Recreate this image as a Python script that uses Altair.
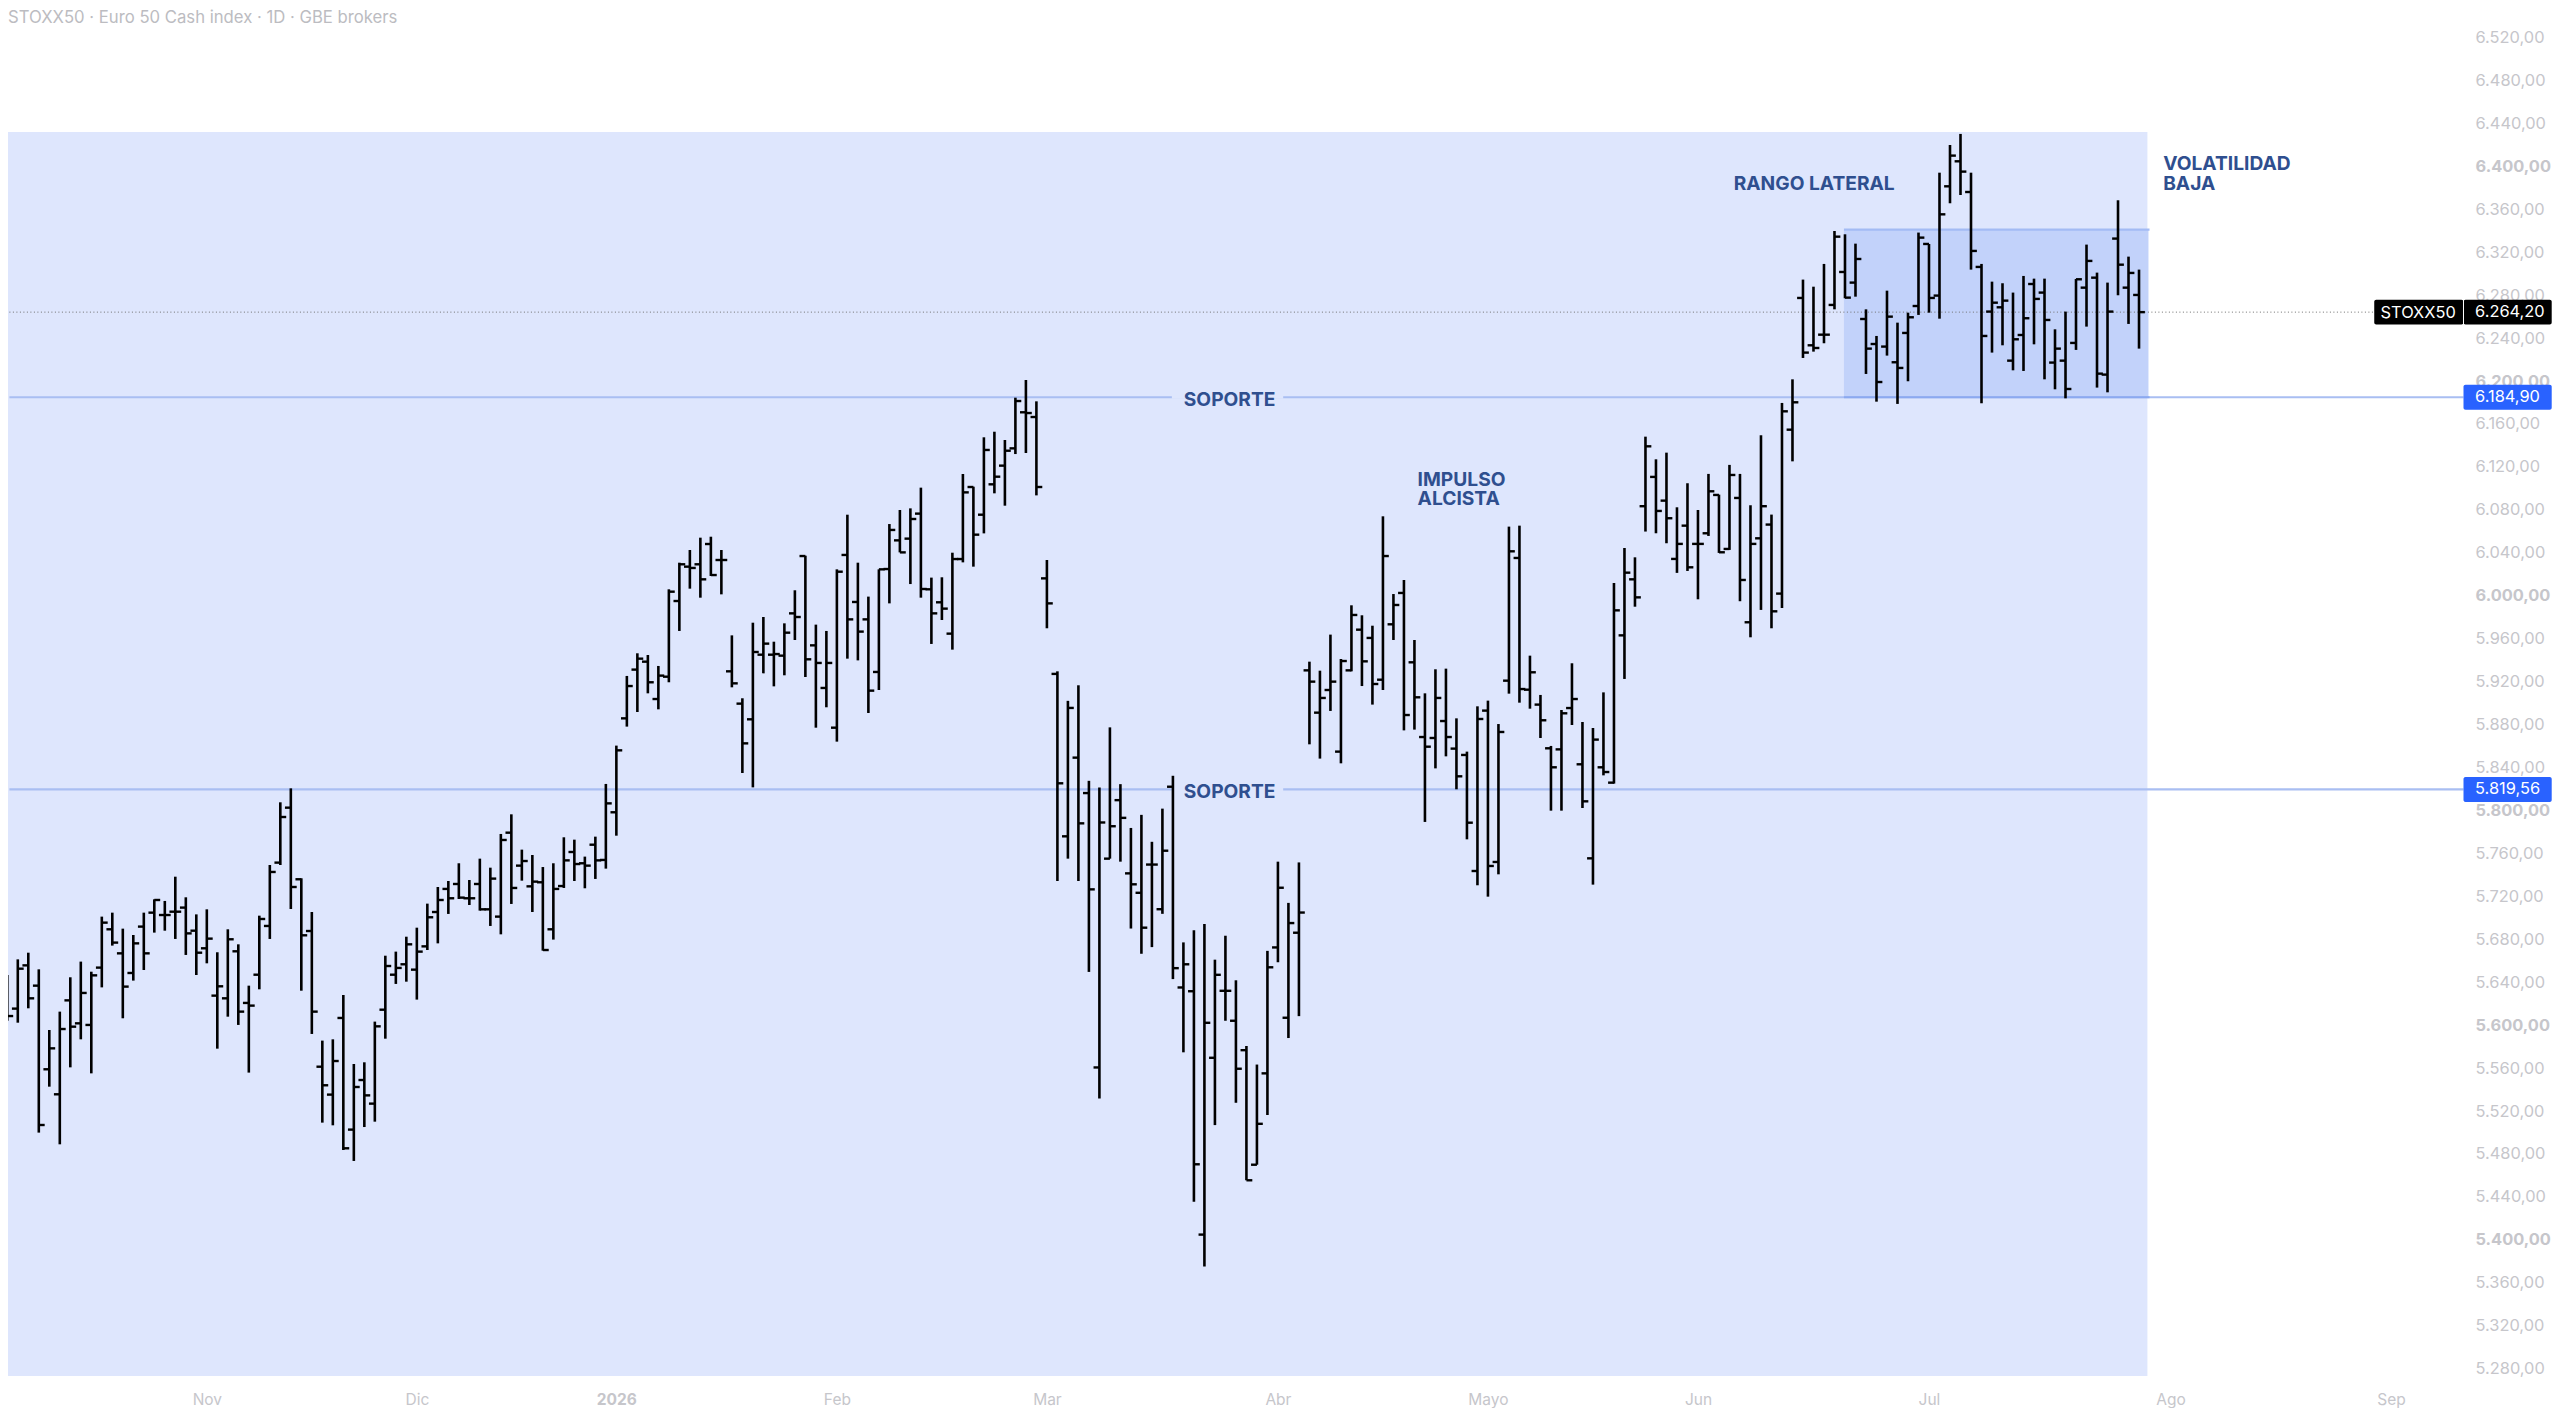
import altair as alt
import pandas as pd

# Daily OHLC, one bar per session
highs = [
    5646.7,5661.3,5667.5,5652.0,5595.5,5612.6,5644.6,5659.2,5649.8,5701.1,
    5704.8,5689.9,5684.0,5704.8,5717.2,5715.7,5738.3,5719.1,5703.2,5707.9,
    5667.9,5689.3,5675.3,5636.8,5702.0,5749.2,5807.6,5820.6,5736.8,5705.4,
    5585.6,5586.8,5628.1,5563.8,5565.4,5603.3,5664.7,5668.5,5682.4,5690.8,
    5713.2,5728.7,5734.3,5750.8,5735.2,5755.1,5746.7,5778.1,5796.4,5763.5,
    5758.5,5747.3,5750.8,5775.0,5772.8,5757.0,5775.6,5824.7,5860.4,5925.3,
    5946.4,5944.8,5934.6,6006.0,6030.8,6042.6,6054.1,6055.0,6042.6,5963.1,
    5904.5,5974.9,5980.2,5957.2,5974.3,6005.1,6037.3,5973.1,5967.2,6024.6,
    6075.5,6030.8,5999.2,6024.6,6066.8,6079.9,6081.4,6100.7,6016.9,6017.2,
    6040.1,6113.4,6101.6,6147.6,6152.8,6145.1,6184.5,6201.0,6181.1,6033.3,
    5929.6,5902.1,5916.6,5827.6,5821.3,5877.4,5824.5,5783.7,5795.9,5770.8,
    5801.7,5832.3,5677.1,5688.4,5694.3,5661.0,5683.3,5641.8,5580.6,5563.3,
    5669.2,5752.3,5713.9,5751.6,5938.6,5930.2,5963.8,5941.1,5991.1,5981.8,
    5972.1,6074.0,6001.6,6014.7,5958.8,5909.1,5931.5,5932.1,5885.8,5854.8,
    5897.0,5902.3,5880.5,6064.4,6065.3,5944.2,5907.6,5860.1,5893.6,5937.1,
    5882.4,5876.8,5910.0,6011.9,6044.5,6035.8,6148.2,6127.1,6133.3,6082.4,
    6104.8,6079.9,6113.5,6094.2,6121.9,6113.5,6084.3,6149.5,6075.6,6179.6,
    6201.6,6294.5,6287.9,6309.1,6339.8,6336.7,6328.0,6266.8,6242.0,6284.2,
    6254.4,6263.7,6338.3,6327.7,6394.1,6419.9,6430.2,6394.1,6309.1,6292.6,
    6291.1,6282.4,6297.9,6295.4,6295.4,6248.2,6264.7,6295.1,6327.1,6301.0,
    6291.7,6368.4,6315.9,6303.8,
]
lows = [
    5604.2,5602.3,5615.7,5499.9,5542.7,5489.0,5560.7,5586.8,5555.1,5635.2,
    5674.1,5606.4,5641.5,5651.4,5686.2,5688.0,5680.3,5665.4,5646.7,5657.6,
    5578.1,5607.9,5600.2,5555.8,5633.4,5680.3,5749.2,5708.2,5632.1,5591.8,
    5509.2,5506.7,5483.7,5473.5,5505.1,5510.1,5587.4,5638.4,5640.5,5623.8,
    5670.0,5676.2,5703.6,5717.5,5711.9,5706.7,5692.4,5684.6,5712.9,5734.6,
    5705.4,5669.4,5679.7,5727.8,5734.3,5727.5,5736.2,5745.8,5776.5,5878.1,
    5891.7,5909.1,5894.2,5919.4,5967.2,6006.6,5998.2,6018.4,6001.3,5914.7,
    5834.9,5821.5,5927.7,5915.6,5925.9,5958.8,5924.3,5877.1,5896.1,5864.1,
    5941.4,5939.8,5890.8,5912.2,5992.9,6040.4,6010.9,5998.2,5955.1,5977.4,
    5949.8,6031.1,6027.1,6058.1,6095.4,6083.9,6132.0,6133.0,6093.5,5969.7,
    5734.3,5755.1,5734.3,5649.6,5531.6,5755.1,5752.3,5690.0,5666.5,5672.7,
    5703.7,5642.9,5574.7,5435.5,5375.1,5506.9,5604.1,5527.7,5455.5,5470.0,
    5516.3,5658.6,5588.0,5608.4,5861.6,5848.3,5892.7,5843.9,5929.6,5915.9,
    5898.6,5912.2,5958.8,5874.6,5875.3,5789.3,5839.2,5850.4,5819.7,5773.1,
    5730.3,5719.7,5740.5,5908.8,5900.4,5894.8,5867.5,5799.8,5799.8,5879.6,
    5802.3,5730.9,5832.7,5825.0,5922.5,5989.8,6059.8,6058.2,6048.9,6021.3,
    6023.1,5996.7,6055.7,6039.9,6042.7,5994.9,5961.3,5986.8,5969.7,5988.6,
    6125.2,6221.5,6227.4,6235.2,6266.8,6277.1,6278.6,6206.6,6180.8,6223.7,
    6178.7,6199.8,6261.6,6263.7,6258.1,6365.6,6373.3,6303.8,6179.3,6226.5,
    6233.3,6210.0,6209.4,6234.2,6201.6,6192.3,6183.9,6229.0,6250.7,6193.9,
    6189.5,6279.9,6253.2,6230.2,
]
opens = [
    5629.0,5615.4,5655.7,5636.8,5558.9,5535.6,5623.1,5601.7,5600.2,5653.6,
    5689.3,5666.9,5648.6,5691.8,5704.8,5702.6,5705.7,5709.5,5688.0,5671.6,
    5627.5,5625.0,5668.8,5620.7,5647.0,5692.4,5751.4,5802.6,5735.9,5687.7,
    5561.3,5535.3,5606.7,5502.7,5548.9,5526.9,5614.4,5647.0,5656.7,5651.7,
    5673.4,5705.4,5726.9,5731.5,5718.2,5731.5,5707.9,5701.1,5779.3,5748.6,
    5729.3,5733.1,5689.3,5729.6,5761.3,5750.8,5768.1,5753.9,5798.3,5885.8,
    5931.2,5938.6,5903.8,5924.6,5995.1,6027.1,6029.3,6048.2,6033.3,5929.6,
    5899.5,5884.9,5945.1,5945.1,5944.2,5983.6,6037.0,5953.8,5914.1,5877.1,
    6038.0,5994.2,5978.0,5929.0,6024.9,6051.6,6053.2,6076.5,6006.0,5993.9,
    5964.7,6034.2,6101.3,6075.5,6103.8,6121.2,6137.3,6170.9,6166.5,6016.2,
    5927.2,5775.9,5849.2,5816.2,5560.6,5755.1,5809.6,5741.4,5723.3,5749.6,
    5708.0,5822.1,5635.1,5631.6,5404.9,5569.6,5632.0,5604.1,5576.7,5470.0,
    5555.1,5672.4,5606.9,5686.1,5930.5,5891.1,5912.2,5854.8,5930.5,5968.4,
    5960.7,5921.8,5973.4,6002.6,5938.0,5868.4,5867.5,5883.3,5857.6,5851.7,
    5743.6,5893.0,5752.0,5920.9,6035.2,5912.5,5898.6,5857.9,5856.9,5895.4,
    5843.0,5755.4,5840.2,5825.9,5963.1,6015.3,6083.4,6110.7,6088.6,6034.3,
    6065.3,6048.3,6058.2,6093.9,6043.6,6091.1,5975.3,6053.5,6066.3,6002.0,
    6154.7,6277.4,6233.3,6243.2,6270.9,6301.6,6291.7,6257.8,6234.5,6232.1,
    6217.5,6244.8,6269.9,6327.7,6279.6,6381.4,6404.7,6376.1,6306.3,6264.7,
    6268.7,6219.0,6242.9,6290.4,6282.4,6217.2,6219.0,6235.5,6287.0,6296.3,
    6206.0,6332.7,6287.0,6280.2,
]
closes = [
    5608.5,5652.6,5625.0,5507.0,5578.4,5596.4,5598.6,5630.0,5646.4,5695.5,
    5676.9,5635.9,5676.2,5666.9,5716.6,5702.6,5705.7,5685.5,5667.5,5680.6,
    5636.2,5680.0,5612.6,5618.2,5698.9,5742.7,5793.9,5728.7,5683.7,5612.6,
    5544.0,5566.6,5485.3,5542.4,5534.6,5598.9,5655.1,5653.3,5675.3,5668.5,
    5700.5,5716.6,5718.2,5718.8,5718.2,5707.9,5736.5,5772.5,5727.8,5752.9,
    5733.7,5670.0,5726.9,5753.5,5750.1,5748.6,5753.5,5806.6,5856.0,5915.9,
    5941.4,5919.4,5925.6,6003.8,6029.3,6025.9,6015.3,6019.3,6033.3,5918.4,
    5862.5,5947.6,5955.4,5945.7,5965.6,5980.2,5940.8,5937.4,5937.4,6022.4,
    5978.0,5966.6,5911.6,6024.6,6061.3,6040.4,6071.5,6006.3,5983.6,5988.0,
    6034.2,6096.3,6056.9,6135.8,6110.9,6135.1,6181.4,6170.2,6101.3,5992.9,
    5825.3,5895.5,5788.0,5726.5,5788.8,5785.3,5793.1,5731.2,5690.8,5749.6,
    5762.5,5653.1,5656.7,5470.4,5602.2,5646.9,5632.0,5559.4,5455.5,5508.1,
    5653.9,5728.0,5695.1,5704.9,5920.0,5904.8,5920.0,5939.2,5982.1,5938.9,
    5917.8,6037.0,5991.4,5888.9,5905.4,5859.4,5904.8,5868.4,5831.8,5788.6,
    5885.2,5748.3,5873.1,6041.4,5913.1,5928.7,5884.0,5840.2,5890.5,5903.8,
    5808.5,5866.0,5835.8,5986.4,6021.5,5998.5,6139.2,6079.0,6072.2,6048.3,
    6026.5,6048.3,6097.3,6040.5,6112.5,6014.7,6048.3,6083.4,5985.5,6171.8,
    6180.2,6226.5,6230.8,6243.2,6334.5,6277.7,6313.7,6230.2,6199.1,6260.0,
    6212.2,6259.4,6333.6,6277.4,6355.3,6410.0,6395.1,6321.2,6242.0,6273.0,
    6274.9,6238.9,6258.5,6276.5,6256.9,6230.2,6192.6,6294.8,6311.9,6206.9,
    6264.7,6308.4,6300.7,6264.2,
]

month_labels = ['Nov', 'Dic', '2026', 'Feb', 'Mar', 'Abr', 'Mayo', 'Jun', 'Jul', 'Ago', 'Sep']
month_bars = [19, 39, 58, 79, 99, 121, 141, 161, 183, 206, 227]
price_ticks = list(range(5280, 6521, 40))

last_price = 6264.2
support_high = 6184.9
support_low = 5819.56
range_top = 6341.0

FONT = 'Inter'
NAVY = '#2f4f8f'
GREY = '#c6c6cb'

# x is bar number, the pane stops just after the last bar
x_scale = alt.Scale(domain=[0.067, 234.9], nice=False, zero=False)
y_scale = alt.Scale(domain=[5264.8, 6547.5], nice=False, zero=False)

x_axis = alt.Axis(
    values=month_bars, title=None, grid=False, domain=False, ticks=False,
    labelFont=FONT, labelFontSize=15.5, labelColor=GREY, labelPadding=7,
    labelFlush=False, labelOverlap=False, labelAngle=0,
    labelFontWeight={'condition': {'test': 'datum.value == 58', 'value': 'bold'}, 'value': 'normal'},
    labelExpr='{}[indexof({}, datum.value)]'.format(month_labels, month_bars),
)
y_axis = alt.Axis(
    orient='right', values=price_ticks, title=None, grid=False, domain=False, ticks=False,
    labelFont=FONT, labelFontSize=16.4, labelColor=GREY, labelPadding=1,
    labelOverlap=False, labelFlush=False,
    labelFontWeight={'condition': {'test': 'datum.value % 200 == 0', 'value': 'bold'}, 'value': 'normal'},
    labelExpr="replace(replace(replace(format(datum.value, ',.2f'), ',', '#'), '.', ','), '#', '.')",
)


def xq(field):
    return alt.X(field, type='quantitative', scale=x_scale, axis=x_axis, title=None)


def yq(field):
    return alt.Y(field, type='quantitative', scale=y_scale, axis=y_axis, title=None)


bars = pd.DataFrame({'bar': range(len(highs)), 'high': highs, 'low': lows, 'open': opens, 'close': closes})
bars['left'] = bars['bar'] - 0.56
bars['right'] = bars['bar'] + 0.56

# Coloured areas
areas = pd.DataFrame({
    'x0': [0.067, 174.9, 110.9, 110.9],
    'x1': [203.8, 203.9, 121.5, 121.5],
    'p0': [5273.2, support_high, support_high - 1.5, support_low - 1.5],
    'p1': [6432.0, range_top, support_high + 1.5, support_low + 1.5],
    'fill': ['#dee6fd', '#c2d2fa', '#dee6fd', '#dee6fd'],
})

# Horizontal levels
levels = pd.DataFrame({
    'x0': [0.2, 0.2, 174.9, 174.9],
    'x1': [233.9, 233.9, 204.0, 204.0],
    'price': [support_high, support_low, support_high, range_top],
    'color': ['#a9bef2', '#a9bef2', '#8ba9f0', '#a3bbf4'],
})


def area_layer(rows):
    return alt.Chart(rows).mark_rect().encode(
        x=xq('x0'), x2='x1', y=yq('p0'), y2='p1',
        fill=alt.Fill('fill:N', scale=None),
    )


back = area_layer(areas.iloc[:2])
level_lines = alt.Chart(levels).mark_rule(strokeWidth=2.2).encode(
    x=xq('x0'), x2='x1', y=yq('price'), color=alt.Color('color:N', scale=None),
)
gaps = area_layer(areas.iloc[2:])
last_line = alt.Chart(pd.DataFrame({'x0': [0.2], 'x1': [225.4], 'price': [last_price]})).mark_rule(
    strokeWidth=1, strokeDash=[1, 2.5], color='#6f6f6f'
).encode(x=xq('x0'), x2='x1', y=yq('price'))

# clip keeps the first bar's left tick from widening the page
stems = alt.Chart(bars).mark_rule(strokeWidth=2.6, color='#000000', clip=True).encode(
    x=xq('bar'), y=yq('low'), y2='high:Q',
)
open_ticks = alt.Chart(bars).mark_rule(strokeWidth=2.4, color='#000000', clip=True).encode(
    x=xq('left'), x2='bar:Q', y=yq('open'),
)
close_ticks = alt.Chart(bars).mark_rule(strokeWidth=2.4, color='#000000', clip=True).encode(
    x=xq('bar'), x2='right:Q', y=yq('close'),
)

# Price tags on the right
tags = pd.DataFrame({
    'x0': [225.4, 233.9, 233.9],
    'x1': [233.9, 242.3, 242.3],
    'p0': [last_price - 11.6, last_price - 11.6, support_high - 11.6],
    'p1': [last_price + 11.6, last_price + 11.6, support_high + 11.6],
    'fill': ['#000000', '#000000', '#2962ff'],
})
tag_boxes = alt.Chart(tags).mark_rect(cornerRadius=2).encode(
    x=xq('x0'), x2='x1', y=yq('p0'), y2='p1', fill=alt.Fill('fill:N', scale=None),
)
low_box = alt.Chart(pd.DataFrame({
    'x0': [233.9], 'x1': [242.3], 'p0': [support_low - 11.6], 'p1': [support_low + 11.6],
})).mark_rect(cornerRadius=2, color='#2962ff').encode(x=xq('x0'), x2='x1', y=yq('p0'), y2='p1')
tag_divider = alt.Chart(pd.DataFrame({
    'x0': [233.9], 'p0': [last_price - 11.6], 'p1': [last_price + 11.6],
})).mark_rule(color='#ffffff', strokeWidth=1).encode(x=xq('x0'), y=yq('p0'), y2='p1')

tag_texts = pd.DataFrame({
    'bar': [226.0, 235.0, 235.0, 235.0],
    'price': [last_price - 1, last_price, support_high, support_low],
    'label': ['STOXX50', '6.264,20', '6.184,90', '5.819,56'],
})
tag_text = alt.Chart(tag_texts).mark_text(
    font=FONT, fontSize=16.4, color='#ffffff', align='left', baseline='middle'
).encode(x=xq('bar'), y=yq('price'), text='label:N')

# Blue notes on the chart
notes = pd.DataFrame({
    'bar': [116.4, 116.4, 164.4, 134.3, 134.3, 205.3, 205.3],
    'price': [support_high - 2.2, support_low - 2.2, 6383.5, 6107.9, 6089.7, 6402.0, 6384.0],
    'label': ['SOPORTE', 'SOPORTE', 'RANGO LATERAL', 'IMPULSO', 'ALCISTA', 'VOLATILIDAD', 'BAJA'],
    'anchor': ['center', 'center', 'left', 'left', 'left', 'left', 'left'],
})
note_center = alt.Chart(notes[notes['anchor'] == 'center']).mark_text(
    font=FONT, fontSize=19.2, fontWeight=700, color=NAVY, align='center', baseline='middle'
).encode(x=xq('bar'), y=yq('price'), text='label:N')
note_left = alt.Chart(notes[notes['anchor'] == 'left']).mark_text(
    font=FONT, fontSize=19.2, fontWeight=700, color=NAVY, align='left', baseline='middle'
).encode(x=xq('bar'), y=yq('price'), text='label:N')

header = alt.Chart(pd.DataFrame({'label': ['STOXX50 · Euro 50 Cash index · 1D · GBE brokers']})).mark_text(
    font=FONT, fontSize=16.7, color='#bcbcc1', align='left', baseline='middle'
).encode(x=alt.value(0), y=alt.value(10), text='label:N')

chart = alt.layer(
    back, level_lines, gaps, last_line, stems, open_ticks, close_ticks,
    tag_boxes, low_box, tag_divider, tag_text, note_center, note_left, header,
).properties(
    width=2466, height=1377, padding=0, background='#ffffff',
).configure_view(
    strokeWidth=0,
)

chart.save("out.html", embed_options={"renderer": "svg", "actions": False})
